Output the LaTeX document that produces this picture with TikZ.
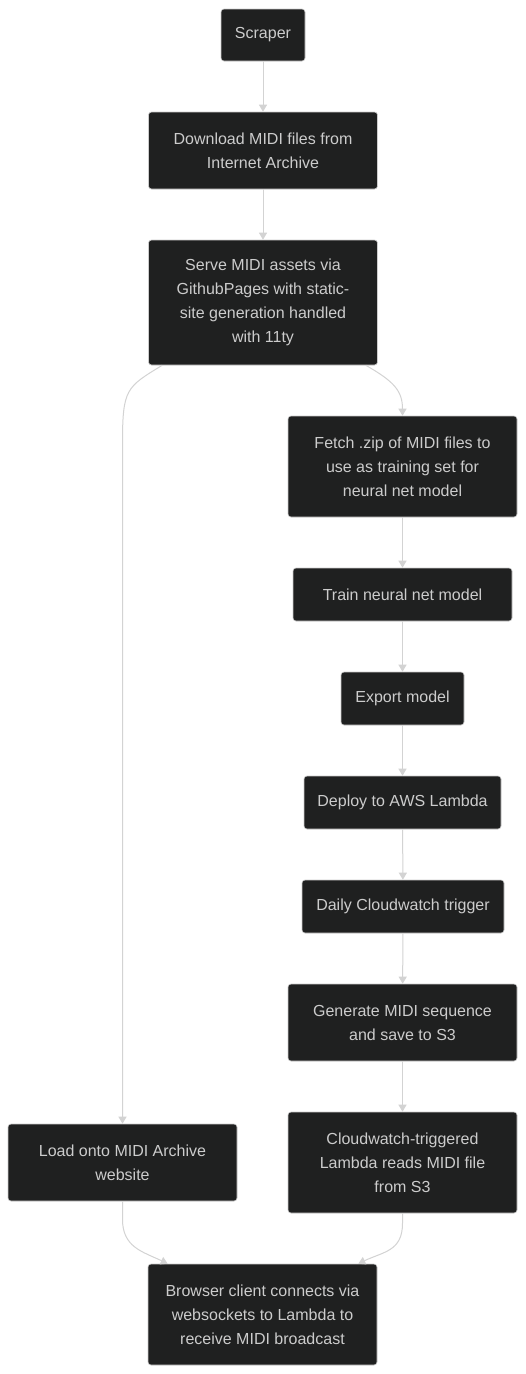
\documentclass[tikz,border=0pt]{standalone}
\usepackage{fontspec}
\setmainfont{Liberation Sans}
\usetikzlibrary{arrows.meta,calc}
\definecolor{boxfill}{HTML}{1F2020}
\definecolor{boxline}{HTML}{CCCCCC}
\definecolor{boxtext}{HTML}{CCCCCC}
\definecolor{edgecol}{HTML}{D3D3D3}
\begin{document}
\begin{tikzpicture}[x=1pt,y=-1pt,
  box/.style={draw=boxline, line width=0.6pt, fill=boxfill, rounded corners=3pt,
    text=boxtext, align=center, font=\fontsize{16}{24}\selectfont, inner sep=0pt},
  conn/.style={draw=edgecol, line width=1pt, -{Triangle[width=8pt,length=7pt]}}]
\useasboundingbox[fill=white] (0,0) rectangle (526,1374);
\node[box, minimum width=84pt, minimum height=52pt] (scraper) at (263,35) {Scraper};
\node[box, minimum width=229pt, minimum height=77pt] (download) at (263,150.5) {Download MIDI files from\\Internet Archive};
\node[box, minimum width=229pt, minimum height=125pt] (serve) at (263,302.5) {Serve MIDI assets via\\GithubPages with static-\\site generation handled\\with 11ty};
\node[box, minimum width=229pt, minimum height=101pt] (fetch) at (402.5,466.5) {Fetch .zip of MIDI files to\\use as training set for\\neural net model};
\node[box, minimum width=219pt, minimum height=53pt] (train) at (402.5,594.5) {Train neural net model};
\node[box, minimum width=123pt, minimum height=53pt] (export) at (402.5,698.5) {Export model};
\node[box, minimum width=197pt, minimum height=53pt] (deploy) at (402.5,802.5) {Deploy to AWS Lambda};
\node[box, minimum width=202pt, minimum height=53pt] (daily) at (403,906.5) {Daily Cloudwatch trigger};
\node[box, minimum width=229pt, minimum height=77pt] (generate) at (402.5,1022.5) {Generate MIDI sequence\\and save to S3};
\node[box, minimum width=229pt, minimum height=101pt] (reads) at (402.5,1162.5) {Cloudwatch-triggered\\Lambda reads MIDI file\\from S3};
\node[box, minimum width=229pt, minimum height=77pt] (load) at (122.5,1162.5) {Load onto MIDI Archive\\website};
\node[box, minimum width=229pt, minimum height=101pt] (browser) at (262.5,1314.5) {Browser client connects via\\websockets to Lambda to\\receive MIDI broadcast};
\draw[conn] (scraper) -- (download);
\draw[conn] (download) -- (serve);
\draw[conn] ($(serve.south west)+(14,0)$) .. controls +(-36,22) and +(0,-55) .. ($(load.north)+(0,-680)$) -- (load.north);
\draw[conn] ($(serve.south east)+(-12,0)$) .. controls +(28,16) and +(0,-25) .. (fetch.north);
\draw[conn] (fetch) -- (train);
\draw[conn] (train) -- (export);
\draw[conn] (export) -- (deploy);
\draw[conn] (deploy) -- (daily);
\draw[conn] (daily) -- (generate);
\draw[conn] (generate) -- (reads);
\draw[conn] (load.south) -- ++(0,18) .. controls +(0,28) and +(-25,-12) .. ($(browser.north west)+(20,0)$);
\draw[conn] (reads.south) -- ++(0,10) .. controls +(0,28) and +(25,-12) .. ($(browser.north east)+(-19,0)$);
\end{tikzpicture}
\end{document}
